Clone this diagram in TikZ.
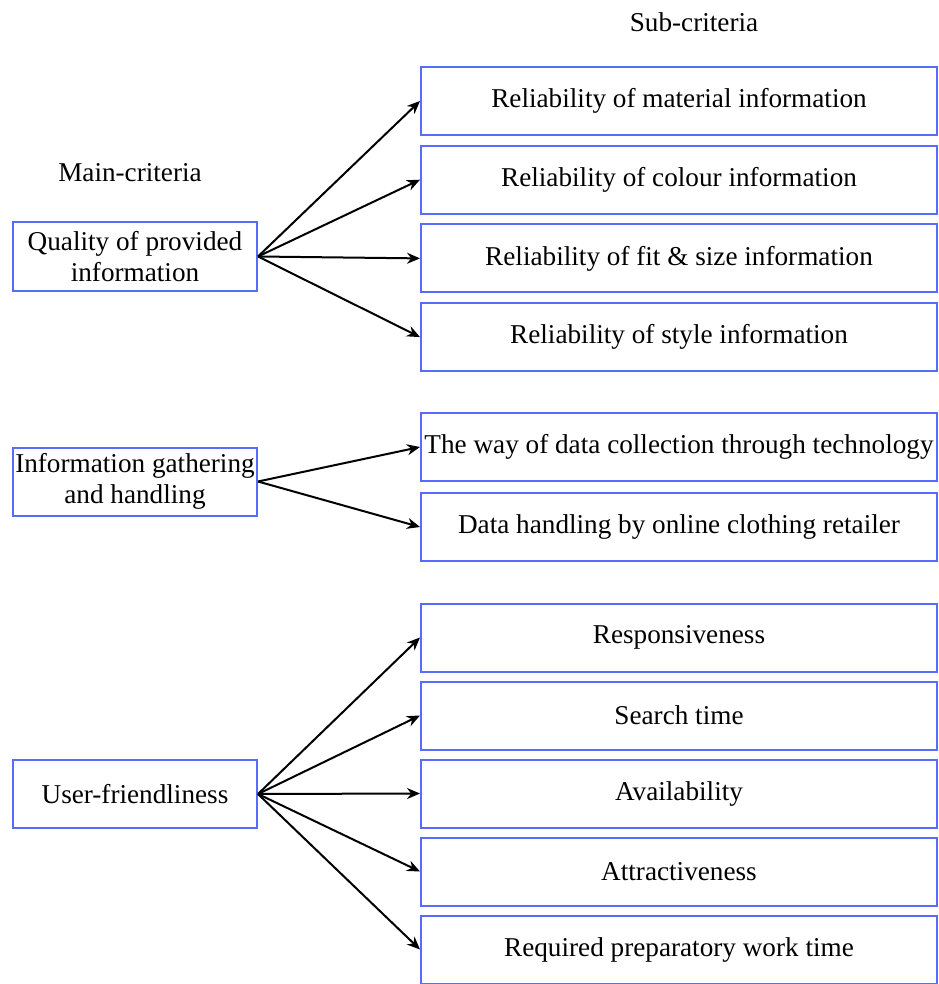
\documentclass[tikz,border=0pt]{standalone}
\usepackage{fontspec}
\setmainfont{Liberation Serif}
\usetikzlibrary{arrows.meta}
\definecolor{critblue}{RGB}{88,108,250}
\begin{document}
\begin{tikzpicture}[x=0.5pt,y=-0.5pt,>={Stealth[length=6.5pt,width=5.5pt]},
    every node/.style={font=\fontsize{13.6}{15.2}\selectfont},
    mainbox/.style={draw=critblue,line width=1pt,minimum width=122pt,minimum height=34pt,inner sep=0pt,align=center},
    subbox/.style={draw=critblue,line width=1pt,minimum width=258pt,minimum height=34pt,inner sep=0pt}]
    \useasboundingbox (0,0) rectangle (938,984);

    % headings
    \node(subhead) at (694,22) {Sub-criteria};
    \node(mainhead) at (130,173) {Main-criteria};

    % main criteria
    \node(m1)[mainbox] at (135,256.5) {Quality of provided\\information};
    \node(m2)[mainbox] at (135,481.5) {Information gathering\\and handling};
    \node(m3)[mainbox] at (135,794) {User-friendliness};

    % sub criteria
    \foreach \t[count=\x] in {Reliability of material information,Reliability of colour information,Reliability of fit \& size information,Reliability of style information}
    {\node(a\x)[subbox] at (679,{101+78.7*(\x-1)}) {\t};
    \draw[->,line width=1pt](m1.east)--(a\x.west);}

    \foreach \t[count=\x] in {The way of data collection through technology,Data handling by online clothing retailer}
    {\node(b\x)[subbox] at (679,{447+80*(\x-1)}) {\t};
    \draw[->,line width=1pt](m2.east)--(b\x.west);}

    \foreach \t[count=\x] in {Responsiveness,Search time,Availability,Attractiveness,Required preparatory work time}
    {\node(c\x)[subbox] at (679,{637.5+78*(\x-1)}) {\t};
    \draw[->,line width=1pt](m3.east)--(c\x.west);}
\end{tikzpicture}
\end{document}
